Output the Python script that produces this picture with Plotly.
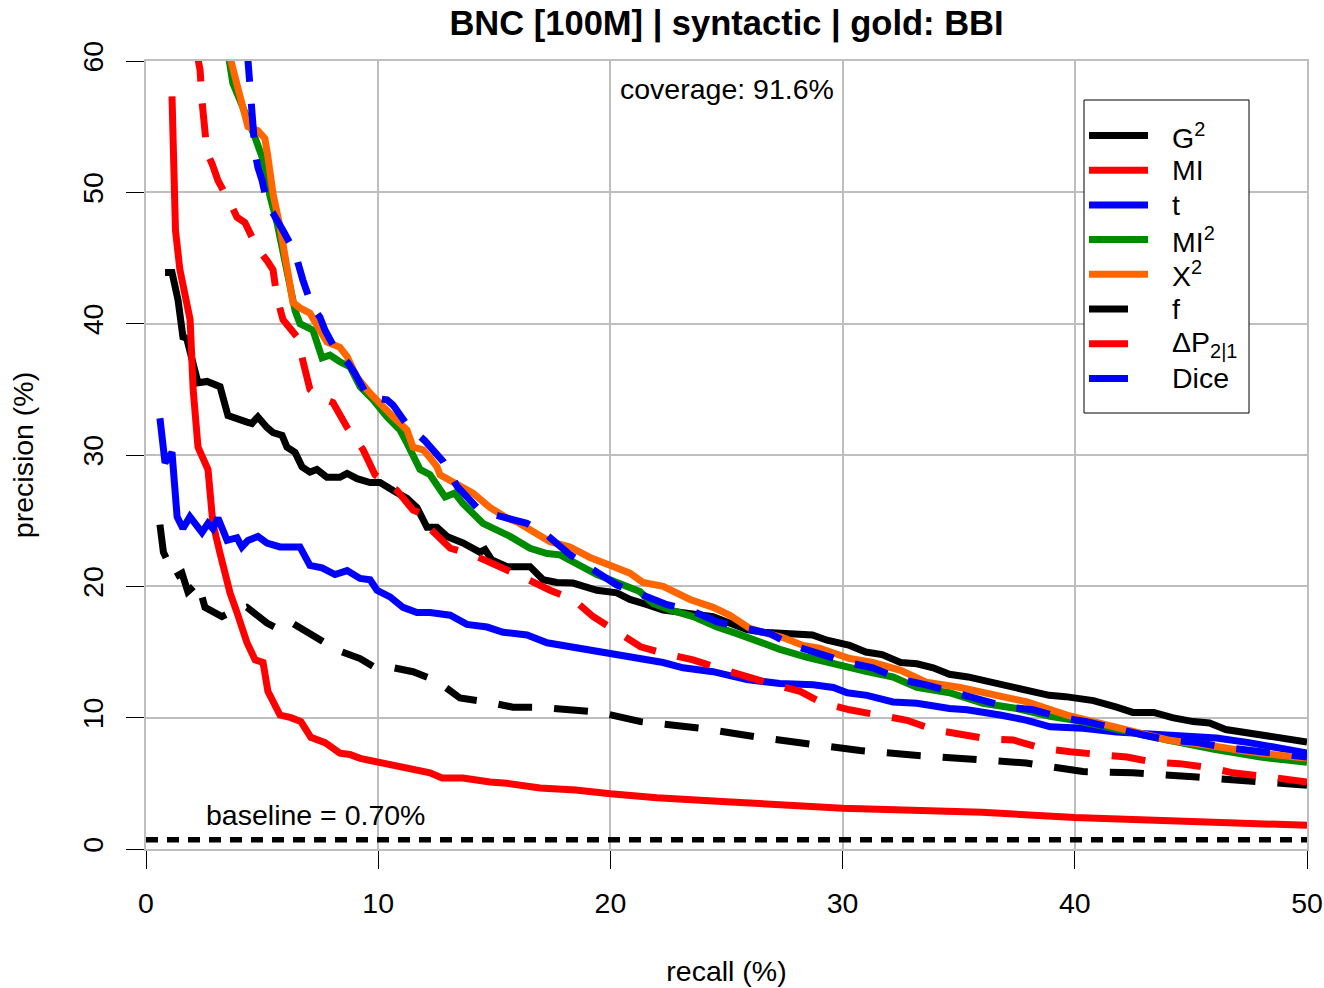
import plotly.graph_objects as go

# ---------------- data (recall %, precision %) ----------------
G2_R = [0.82,1.12,1.38,1.59,1.75,2.24,2.63,3.19,3.53,3.92,4.35,4.56,4.82,5.21,5.47,5.86,6.07,6.42,6.72,7.06,7.36,7.79,8.35,8.66,9.09,9.65,10.08,10.64,11.24,11.67,12.1,12.53,12.96,13.65,14.38,14.6,14.9,15.55,16.54,17.1,17.7,18.39,19.42,20.28,20.84,21.58,22.27,23.13,24.42,24.85,25.88,26.57,28.04,28.7,29.33,30.3,31.0,31.7,32.5,33.2,33.9,34.6,35.4,36.1,36.8,37.5,38.2,38.9,39.6,40.8,41.8,42.5,43.4,44.2,45.1,45.8,46.5,47.2,48.7,50]
G2_P = [43.9,43.9,41.8,39.0,38.9,35.5,35.6,35.2,33.0,32.7,32.5,32.4,32.9,32.1,31.7,31.5,30.6,30.2,29.1,28.7,28.9,28.3,28.3,28.6,28.2,27.9,27.9,27.3,26.7,26.0,24.5,24.5,23.8,23.3,22.6,22.8,22.0,21.5,21.5,20.5,20.3,20.25,19.7,19.5,19.0,18.6,18.2,18.0,17.7,17.4,16.7,16.5,16.3,16.3,15.9,15.5,15.0,14.8,14.2,14.1,13.8,13.3,13.1,12.8,12.6,12.3,12.0,11.7,11.6,11.3,10.8,10.4,10.4,10.0,9.7,9.6,9.1,8.9,8.5,8.15]

MI_R = [1.12,1.2,1.27,1.46,1.9,2.03,2.24,2.67,2.88,3.19,3.62,3.92,4.35,4.7,5.04,5.25,5.55,5.77,6.24,6.67,7.1,7.71,8.35,8.78,9.22,10.08,10.81,11.67,12.23,12.75,13.65,14.81,15.55,16.97,18.5,20,22,25,28,30,33,36,40,45,50]
MI_P = [57.3,53.2,47.1,44.1,40.3,35.0,30.6,28.9,24.8,22.5,19.5,18.0,15.7,14.4,14.2,12.0,11.1,10.2,10.0,9.7,8.5,8.1,7.3,7.2,6.9,6.6,6.25,6.0,5.8,5.4,5.4,5.1,5.0,4.65,4.5,4.2,3.9,3.6,3.3,3.1,2.95,2.8,2.4,2.15,1.8]

T_R = [0.6,0.82,1.12,1.34,1.59,1.89,2.41,2.67,2.88,3.1,3.49,3.92,4.13,4.39,4.82,5.21,5.77,6.63,7.06,7.58,8.14,8.66,9.22,9.65,9.95,10.51,11.07,11.67,12.23,13.1,13.82,14.69,15.38,16.41,17.27,18.26,19.85,21.14,22.27,23.13,24.42,25.88,27.3,28.73,29.6,30.2,31.05,32.17,33.2,34.6,35.36,36.78,37.94,38.94,40.36,41.8,44.0,46.1,47.5,49.0,50]
T_P = [32.8,29.4,30.2,25.3,24.4,25.3,24.1,24.8,24.4,25.2,23.5,23.7,23.0,23.5,23.8,23.3,23.0,23.0,21.6,21.4,20.9,21.2,20.6,20.5,19.7,19.2,18.4,18.0,18.0,17.8,17.1,16.9,16.5,16.3,15.7,15.4,14.9,14.6,14.2,13.8,13.5,12.9,12.6,12.5,12.3,11.9,11.7,11.2,11.1,10.7,10.6,10.2,9.8,9.3,9.2,8.9,8.7,8.45,8.1,7.7,7.3]

MI2_R = [3.5,3.57,3.74,4.05,4.48,4.69,5.04,5.34,5.64,5.9,6.2,6.42,6.63,6.93,7.19,7.58,7.92,8.35,8.79,9.22,9.78,10.38,10.94,11.24,11.8,12.23,12.88,13.3,13.65,14.51,15.12,15.68,16.54,17.27,17.83,18.69,19.42,20.28,21.27,21.83,22.57,23.56,24.59,25.45,26.31,27.3,28.47,29.33,30.3,31.05,32.17,33.2,34.6,36.05,37.5,38.93,40.0,42.0,44.0,46.0,48.0,50.0]
MI2_P = [61,60,58.3,57.0,55.3,54.2,52.5,49.7,47.7,45.6,43.1,41.0,40.0,39.8,39.5,37.4,37.6,37.1,36.7,35.2,34.2,32.9,31.9,30.9,28.9,28.5,26.8,27.1,26.3,24.8,24.3,23.8,22.9,22.5,22.4,21.6,20.9,20.3,19.6,18.7,18.2,17.7,16.9,16.4,15.8,15.2,14.6,14.2,13.8,13.5,13.1,12.3,11.9,11.1,10.7,10.1,9.8,9.0,8.3,7.6,7.0,6.6]

X2_R = [3.55,3.66,4.05,4.39,4.82,5.12,5.25,5.47,5.77,6.11,6.33,6.63,7.06,7.49,7.79,8.35,8.66,9.09,9.65,10.65,11.24,11.5,11.93,12.23,12.53,12.66,13.22,14.08,14.81,15.55,15.98,16.54,17.4,18.26,19.12,19.98,20.84,21.4,22.27,23.43,24.42,25.15,26.0,26.57,27.43,28.3,29.0,30.3,31.3,32.5,33.6,35.06,36.2,37.94,39.66,41.1,42.5,44.0,46.1,47.5,50]
X2_P = [61,60,57.3,55.0,54.7,54.1,52.7,49.9,47.4,44.3,41.6,41.2,40.8,39.5,38.6,38.2,37.5,35.9,34.7,32.9,31.9,30.6,30.4,29.8,29.1,28.5,27.9,27.1,26.0,25.2,24.9,24.3,23.4,23.0,22.2,21.6,21.0,20.3,20.0,19.0,18.4,17.8,16.8,16.5,16.1,15.5,15.3,14.5,14.2,13.6,12.7,12.3,11.9,11.2,10.2,9.6,8.9,8.3,7.8,7.4,6.9]

F_R = [0.6,0.75,1.25,1.55,1.8,2.24,2.54,3.27,3.62,4.35,5.21,5.64,6.2,7.15,7.62,8.23,9.22,9.78,10.38,11.5,12.53,13.52,14.68,15.8,16.97,19.55,21.3,23.9,26.4,28.2,30.75,33.0,35.4,37.9,40.35,42.5,45.1,47.4,50]
F_P = [24.7,22.6,20.7,21.0,19.6,20.3,18.4,17.7,18.0,18.4,17.2,16.8,17.3,16.3,15.7,15.15,14.5,13.9,13.9,13.5,12.8,11.5,11.2,10.8,10.8,10.4,9.7,9.2,8.5,8.07,7.5,7.15,6.8,6.55,5.9,5.8,5.5,5.25,4.85]

DP_R = [2.15,2.24,2.33,2.41,2.54,2.63,2.84,3.1,3.62,3.92,4.26,4.78,5.21,5.47,5.64,5.9,6.5,6.76,7.06,7.49,8.05,8.66,9.35,9.86,10.38,10.81,11.5,11.8,12.23,13.1,14.08,15.25,16.24,17.4,18.4,19.25,20.28,21.3,22.27,23.56,24.6,25.88,26.87,28.17,29.15,30.3,31.6,32.77,33.9,35.06,36.2,37.35,38.5,39.8,41.1,42.25,43.4,44.5,45.8,46.8,48.3,50]
DP_P = [61,60,59.3,57.0,55.0,53.0,52.2,50.9,49.2,48.1,47.7,45.8,44.8,44.1,42.0,40.3,39.0,37.2,35.0,34.4,34.0,32.1,30.4,28.5,27.9,27.3,25.8,25.6,24.4,22.9,22.4,21.5,20.7,19.7,19.0,17.7,16.5,15.4,14.9,14.4,13.8,13.1,12.6,12.0,11.1,10.6,10.2,9.8,9.1,8.8,8.4,8.3,7.7,7.4,7.15,7.0,6.6,6.5,6.2,5.8,5.5,5.1]

DICE_R = [4.35,4.39,4.48,4.6,4.7,4.82,5.0,5.25,5.47,5.9,6.42,6.76,7.15,7.49,7.71,8.23,8.7,9.0,9.56,10.38,10.64,11.24,11.67,12.0,12.8,13.4,14.25,15.1,16.4,17.27,18.26,19.12,20.28,21.14,22.44,23.43,24.6,25.58,26.87,27.86,29.0,30.2,31.3,32.5,33.6,34.75,35.9,37.1,38.2,39.4,40.5,41.6,42.9,44.0,45.3,46.6,47.7,48.8,50]
DICE_P = [61,60,57.3,55.0,53.0,51.9,50.9,48.9,48.4,47.1,45.4,43.3,41.3,40.5,39.5,37.8,37.0,36.2,34.4,34.2,33.8,32.3,31.7,31.1,29.5,27.6,26.0,25.4,24.8,23.9,22.4,21.4,20.1,19.5,18.6,18.2,17.3,16.9,16.4,15.5,14.9,14.2,13.8,12.9,12.5,11.9,11.3,10.8,10.6,10.0,9.7,9.2,8.7,8.3,8.1,7.7,7.5,7.3,7.0]

BASELINE = 0.70
COVERAGE = 91.6
X_TICKS = [0, 10, 20, 30, 40, 50]
Y_TICKS = [0, 10, 20, 30, 40, 50, 60]

SERIES = [
    ("G<sup>2</sup>", G2_R, G2_P, "#000000", "solid"),
    ("MI", MI_R, MI_P, "#FF0000", "solid"),
    ("t", T_R, T_P, "#0000FF", "solid"),
    ("MI<sup>2</sup>", MI2_R, MI2_P, "#008B00", "solid"),
    ("X<sup>2</sup>", X2_R, X2_P, "#FF6600", "solid"),
    ("f", F_R, F_P, "#000000", "dashed"),
    ("ΔP<sub>2|1</sub>", DP_R, DP_P, "#FF0000", "dashed"),
    ("Dice", DICE_R, DICE_P, "#0000FF", "dashed"),
]

# ---------------- style ----------------
FONT = "Liberation Sans, Arial, Helvetica, sans-serif"
FS = 28.5
LW = 7
DASH = "34px,22px"
W, H = 1324, 988
ML, MR, MT, MB = 146, 17, 61, 139
PW, PH = W - ML - MR, H - MT - MB


def pxx(px):
    return (px - ML) / PW


def pxy(py):
    return (H - MB - py) / PH


fig = go.Figure()

fig.add_trace(go.Scatter(x=[X_TICKS[0], X_TICKS[-1]], y=[BASELINE, BASELINE], mode="lines",
                         line=dict(color="black", width=5.5, dash="12px,9px"),
                         showlegend=False, hoverinfo="skip"))

for name, xs, ys, col, sty in SERIES:
    fig.add_trace(go.Scatter(
        x=xs, y=ys, mode="lines", name=name,
        line=dict(color=col, width=LW, dash=(DASH if sty == "dashed" else "solid")),
        showlegend=False))

shapes = []
annotations = []

# legend box (drawn manually to mimic R legend)
shapes.append(dict(type="rect", xref="paper", yref="paper",
                   x0=pxx(1084), x1=pxx(1249), y0=pxy(413), y1=pxy(100),
                   line=dict(color="black", width=1), fillcolor="white", layer="above"))
row0, step = 135.5, 34.7
for i, (name, xs, ys, col, sty) in enumerate(SERIES):
    yy = pxy(row0 + i * step)
    xend = 1148 if sty == "solid" else 1128
    shapes.append(dict(type="line", xref="paper", yref="paper",
                       x0=pxx(1089), x1=pxx(xend), y0=yy, y1=yy,
                       line=dict(color=col, width=LW), layer="above"))
    annotations.append(dict(x=pxx(1170), y=yy, xref="paper", yref="paper",
                            xanchor="left", yanchor="middle", text=name, showarrow=False,
                            font=dict(family=FONT, size=FS, color="black")))

annotations.append(dict(x=7.28, y=2.6, xref="x", yref="y", text="baseline = %.2f%%" % BASELINE,
                        showarrow=False, xanchor="center", yanchor="middle",
                        font=dict(family=FONT, size=FS, color="black")))
annotations.append(dict(x=25, y=57.9, xref="x", yref="y", text="coverage: %.1f%%" % COVERAGE,
                        showarrow=False, xanchor="center", yanchor="middle",
                        font=dict(family=FONT, size=FS, color="black")))

fig.update_layout(
    width=W, height=H,
    margin=dict(l=ML, r=MR, t=MT, b=MB, autoexpand=False),
    paper_bgcolor="white", plot_bgcolor="white",
    font=dict(family=FONT, size=FS, color="black"),
    title=dict(text="<b>BNC [100M] | syntactic | gold: BBI</b>",
               x=0.5, xref="paper", xanchor="center",
               y=1 - 23 / H, yref="container", yanchor="middle",
               font=dict(family=FONT, size=34.5, color="black")),
    shapes=shapes, annotations=annotations,
    showlegend=False,
)

fig.update_xaxes(range=[0, 50], tickvals=X_TICKS, ticktext=[str(v) for v in X_TICKS],
                 showgrid=True, gridcolor="#BEBEBE", gridwidth=1.5, zeroline=False,
                 showline=True, linecolor="#BEBEBE", linewidth=1.5, mirror=True,
                 ticks="outside", ticklen=18, tickwidth=1, tickcolor="black",
                 tickfont=dict(family=FONT, size=FS, color="black"), ticklabelstandoff=10,
                 title=dict(text="recall (%)", standoff=43, font=dict(family=FONT, size=FS)))
fig.update_yaxes(range=[0, 60], tickvals=Y_TICKS, ticktext=[str(v) for v in Y_TICKS],
                 showgrid=True, gridcolor="#BEBEBE", gridwidth=1.5, zeroline=False,
                 showline=True, linecolor="#BEBEBE", linewidth=1.5, mirror=True,
                 ticks="outside", ticklen=18, tickwidth=1, tickcolor="black", tickangle=-90,
                 tickfont=dict(family=FONT, size=FS, color="black"), ticklabelstandoff=12,
                 title=dict(text="precision (%)", standoff=35, font=dict(family=FONT, size=FS)))

fig.write_html("out.html")
